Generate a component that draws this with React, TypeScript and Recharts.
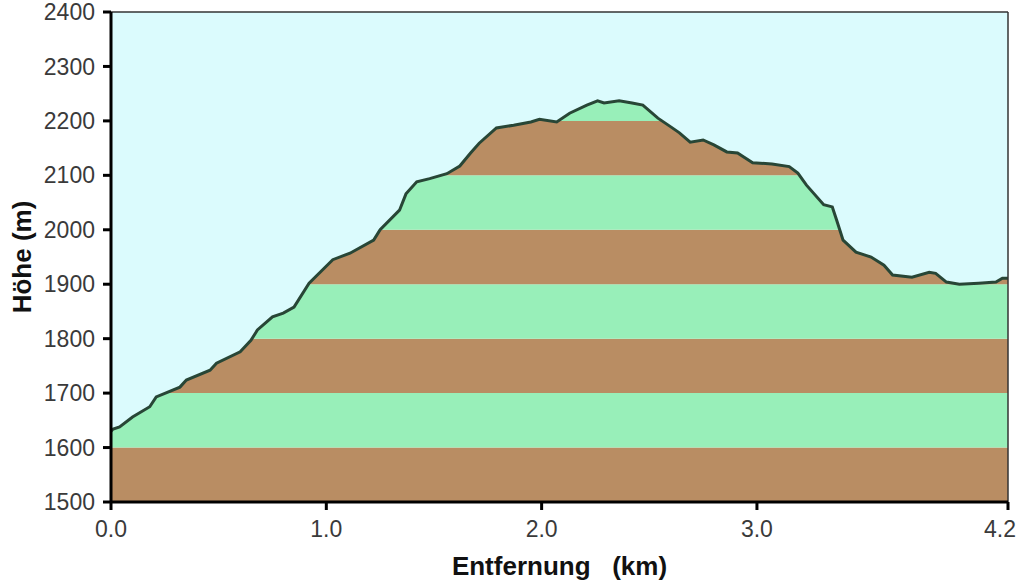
import React from "react";
import {
  ComposedChart,
  Area,
  Line,
  XAxis,
  YAxis,
  ReferenceLine,
  Label,
} from "recharts";

// distance (km) and elevation (m)
const KM = [
  0.0, 0.01, 0.04, 0.1, 0.18, 0.21, 0.32, 0.35, 0.46, 0.49, 0.6, 0.65, 0.68,
  0.75, 0.8, 0.85, 0.92, 1.03, 1.11, 1.22, 1.25, 1.34, 1.37, 1.42, 1.48, 1.56,
  1.62, 1.67, 1.71, 1.79, 1.87, 1.95, 1.99, 2.07, 2.13, 2.21, 2.26, 2.29, 2.36,
  2.42, 2.47, 2.54, 2.6, 2.64, 2.69, 2.75, 2.8, 2.86, 2.91, 2.98, 3.07, 3.15,
  3.19, 3.23, 3.31, 3.35, 3.37, 3.4, 3.46, 3.53, 3.59, 3.63, 3.72, 3.8, 3.83,
  3.88, 3.94, 4.03, 4.11, 4.14, 4.166,
];
const ELEV = [
  1630, 1634, 1638, 1656, 1675, 1693, 1711, 1724, 1742, 1755, 1776, 1797, 1816,
  1840, 1847, 1858, 1902, 1945, 1957, 1981, 2000, 2036, 2066, 2088, 2094, 2103,
  2117, 2141, 2159, 2187, 2192, 2198, 2203, 2198, 2214, 2229, 2237, 2233, 2237,
  2233, 2229, 2205, 2189, 2178, 2161, 2165, 2156, 2143, 2141, 2123, 2121, 2116,
  2104, 2082, 2046, 2042, 2018, 1981, 1959, 1950, 1935, 1917, 1913, 1922, 1920,
  1904, 1900, 1902, 1904, 1911, 1911,
];

const Y_TICKS = [1500, 1600, 1700, 1800, 1900, 2000, 2100, 2200, 2300, 2400];
const X_MAX = 4.166;
const X_TICKS = [0, 1, 2, 3, X_MAX];
const BANDS = [1500, 1600, 1700, 1800, 1900, 2000, 2100, 2200, 2300];

const BROWN = "#b98d63";
const GREEN = "#98efb9";
const SKY = "#dbfbfd";
const LINE = "#284636";
const TEXT = "#3a3a3a";
const FONT = "'Liberation Sans', Arial, sans-serif";

const data = KM.map((km, i) => ({ km, elev: ELEV[i], sky: [ELEV[i], 2400] }));

function XTick(props: any) {
  const { x, y, payload } = props;
  const last = payload.value === X_MAX;
  return (
    <text
      x={last ? x + 8 : x}
      y={y}
      dy="0.71em"
      textAnchor={last ? "end" : "middle"}
      fill={TEXT}
      fontSize={23}
      fontFamily={FONT}
    >
      {payload.value.toFixed(1)}
    </text>
  );
}

export default function App() {
  return (
    <div style={{ position: "absolute", left: 0, top: 0, background: "#fff" }}>
      <ComposedChart
        width={1020}
        height={584}
        data={data}
        margin={{ top: 12, right: 12, left: 0, bottom: 0 }}
      >
        <XAxis
          dataKey="km"
          type="number"
          domain={[0, X_MAX]}
          ticks={X_TICKS}
          interval={0}
          height={82}
          axisLine={{ stroke: "#000", strokeWidth: 3 }}
          tickLine={{ stroke: "#000", strokeWidth: 3 }}
          tickSize={8}
          tickMargin={11}
          tick={<XTick />}
        >
          <Label
            value={"Entfernung\u00a0\u00a0\u00a0(km)"}
            position="insideBottom"
            offset={9}
            fill="#111"
            fontSize={26}
            fontWeight="bold"
            fontFamily={FONT}
          />
        </XAxis>
        <YAxis
          type="number"
          domain={[1500, 2400]}
          ticks={Y_TICKS}
          interval={0}
          width={111}
          axisLine={{ stroke: "#000", strokeWidth: 3 }}
          tickLine={{ stroke: "#000", strokeWidth: 3 }}
          tickSize={8}
          tickMargin={8}
          tick={{ fill: TEXT, fontSize: 23, fontFamily: FONT }}
        >
          <Label
            value="Höhe (m)"
            angle={-90}
            position="insideLeft"
            offset={22}
            fill="#111"
            fontSize={26}
            fontWeight="bold"
            fontFamily={FONT}
            style={{ textAnchor: "middle" }}
          />
        </YAxis>
        {BANDS.map((lo, i) => (
          <Area
            key={lo}
            dataKey={() => [lo, lo + 100]}
            type="linear"
            stroke="none"
            fill={i % 2 === 0 ? BROWN : GREEN}
            fillOpacity={1}
            isAnimationActive={false}
            activeDot={false}
          />
        ))}
        <Area
          dataKey="sky"
          type="linear"
          stroke="none"
          fill={SKY}
          fillOpacity={1}
          isAnimationActive={false}
          activeDot={false}
        />
        <Line
          dataKey="elev"
          type="linear"
          stroke={LINE}
          strokeWidth={3}
          dot={false}
          isAnimationActive={false}
        />
        <ReferenceLine y={2400} stroke="#333" strokeWidth={1.5} />
        <ReferenceLine x={X_MAX} stroke="#333" strokeWidth={1.5} />
      </ComposedChart>
    </div>
  );
}
